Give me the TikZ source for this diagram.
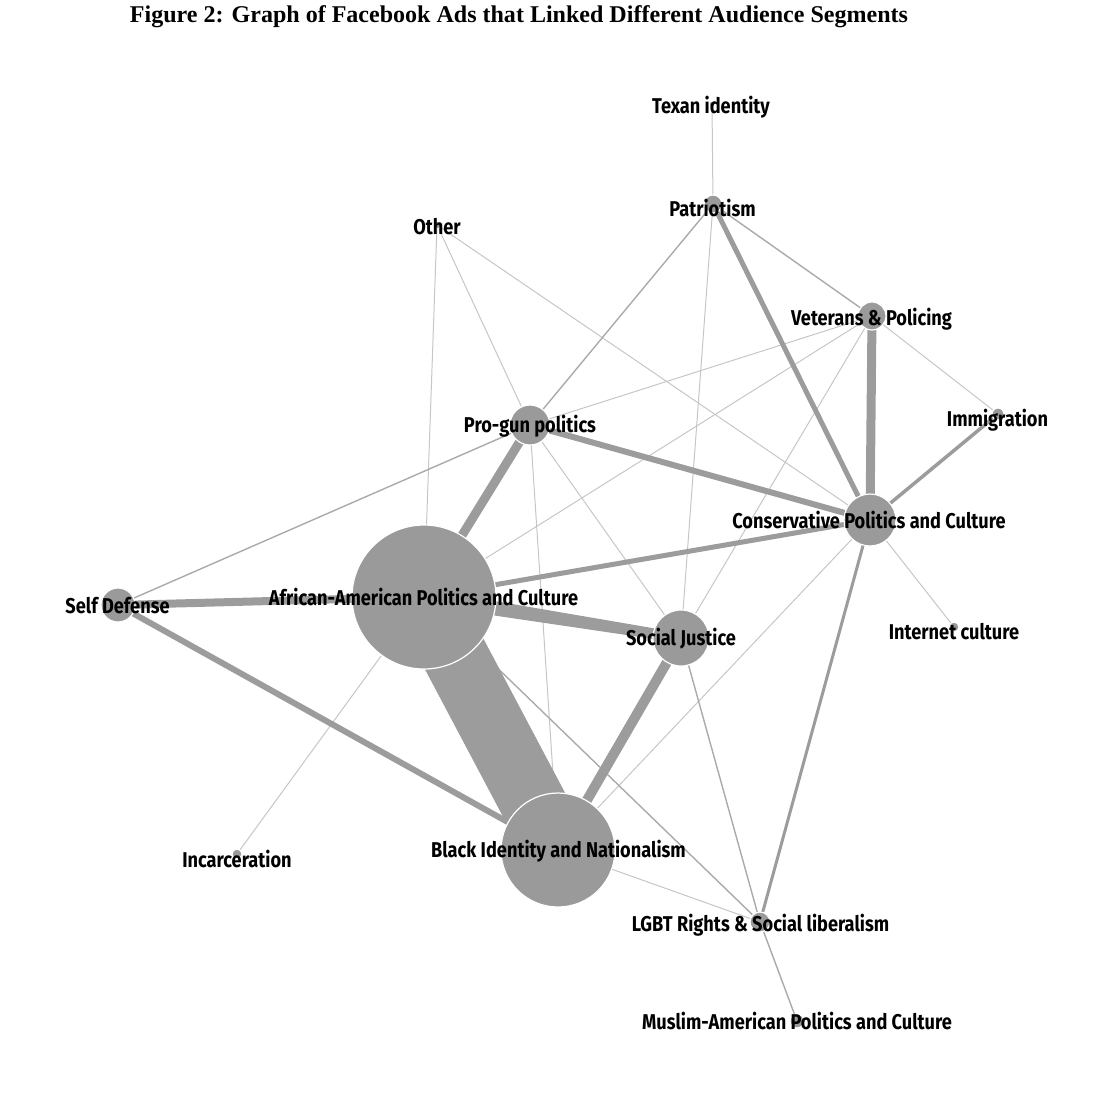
\documentclass[tikz,border=0pt]{standalone}
\usepackage{fontspec}
\setmainfont{Liberation Serif}
\newfontfamily\labfont[FakeStretch=0.85]{Fira Sans}
\usetikzlibrary{calc}
\pgfdeclarelayer{bg}
\pgfsetlayers{bg,main}
\definecolor{ngray}{HTML}{9A9A9A}
\definecolor{egray}{HTML}{9C9C9C}
\definecolor{lgray}{HTML}{C6C6C6}
\definecolor{mgray}{HTML}{AAAAAA}
\tikzset{
  seg/.style={circle, fill=ngray, draw=white, line width=0.6pt, inner sep=0pt, minimum size=#1},
  lab/.style={font=\labfont\bfseries\fontsize{10.7}{12}\selectfont, inner sep=0pt, anchor=base},
  thinedge/.style={draw=lgray, line width=0.5pt},
  midedge/.style={draw=mgray, line width=0.7pt},
  wideedge/.style={draw=egray, line width=#1},
}
\begin{document}
\begin{tikzpicture}[x=0.5pt, y=-0.5pt]
\useasboundingbox (0,0) rectangle (1106,1094);
% title
\node[anchor=base, inner sep=0pt] (title) at (519,22) {\resizebox{389pt}{!}{\bfseries Figure 2: Graph of Facebook Ads that Linked Different Audience Segments}};
% segment circles
\node[seg=3pt]  (tex)  at (712,104) {};
\node[seg=9pt]  (pat)  at (713,204) {};
\node[seg=4pt]  (oth)  at (437,225) {};
\node[seg=14pt] (vet)  at (872,316) {};
\node[seg=6pt]  (imm)  at (998,414) {};
\node[seg=20pt] (pro)  at (530,425) {};
\node[seg=26pt] (con)  at (870,520) {};
\node[seg=17pt] (sd)   at (118,605) {};
\node[seg=72pt] (aa)   at (424,597) {};
\node[seg=28pt] (sj)   at (681,638) {};
\node[seg=5pt]  (int)  at (954,627) {};
\node[seg=5pt]  (inc)  at (237,854) {};
\node[seg=57pt] (bi)   at (558,850) {};
\node[seg=10pt] (lgbt) at (760,922) {};
\node[seg=7pt]  (mus)  at (797,1021) {};
% edges
\begin{pgfonlayer}{bg}
  \draw[thinedge] (tex.center) -- (pat.center);
  \draw[thinedge] (oth.center) -- (aa.center);
  \draw[thinedge] (oth.center) -- (pro.center);
  \draw[thinedge] (oth.center) -- (con.center);
  \draw[thinedge] (vet.center) -- (pro.center);
  \draw[thinedge] (vet.center) -- (aa.center);
  \draw[thinedge] (vet.center) -- (sj.center);
  \draw[thinedge] (vet.center) -- (imm.center);
  \draw[thinedge] (pat.center) -- (sj.center);
  \draw[thinedge] (pro.center) -- (sj.center);
  \draw[thinedge] (pro.center) -- (bi.center);
  \draw[thinedge] (aa.center) -- (inc.center);
  \draw[thinedge] (bi.center) -- (lgbt.center);
  \draw[thinedge] (con.center) -- (bi.center);
  \draw[thinedge] (con.center) -- (int.center);
  \draw[midedge] (sd.center) -- (pro.center);
  \draw[midedge] (pat.center) -- (pro.center);
  \draw[midedge] (pat.center) -- (vet.center);
  \draw[midedge] (aa.center) -- (lgbt.center);
  \draw[midedge] (sj.center) -- (lgbt.center);
  \draw[midedge] (lgbt.center) -- (mus.center);
  \draw[wideedge=1.75pt] (imm.center) -- (con.center);
  \draw[wideedge=1.5pt] (con.center) -- (lgbt.center);
  \draw[wideedge=2.5pt] (aa.center) -- (con.center);
  \draw[wideedge=2.5pt] (pat.center) -- (con.center);
  \draw[wideedge=3pt] (pro.center) -- (con.center);
  \draw[wideedge=4.5pt] (vet.center) -- (con.center);
  \draw[wideedge=3pt] (sd.center) -- (bi.center);
  \draw[wideedge=4pt] (sd.center) -- (aa.center);
  \draw[wideedge=4.5pt] (pro.center) -- (aa.center);
  \draw[wideedge=5pt] (sj.center) -- (bi.center);
  \fill[egray] ($(aa.center)!4pt!90:(sj.center)$) -- ($(aa.center)!4pt!-90:(sj.center)$)
     -- ($(sj.center)!2.5pt!90:(aa.center)$) -- ($(sj.center)!2.5pt!-90:(aa.center)$) -- cycle;
  \draw[wideedge=33pt] (aa.center) -- (bi.center);
\end{pgfonlayer}
% labels
\node[lab] (l-tex)  at (711,113)   {Texan identity};
\node[lab] (l-pat)  at (712.5,216) {Patriotism};
\node[lab] (l-oth)  at (437,234)   {Other};
\node[lab] (l-vet)  at (871.5,325) {Veterans \& Policing};
\node[lab] (l-imm)  at (997.5,426) {Immigration};
\node[lab] (l-pro)  at (530,432)   {Pro-gun politics};
\node[lab] (l-con)  at (869,528)   {Conservative Politics and Culture};
\node[lab] (l-sd)   at (117.5,613) {Self Defense};
\node[lab] (l-aa)   at (423.5,605) {African-American Politics and Culture};
\node[lab] (l-sj)   at (681,645)   {Social Justice};
\node[lab] (l-int)  at (954,639)   {Internet culture};
\node[lab] (l-inc)  at (237,867)   {Incarceration};
\node[lab] (l-bi)   at (558.5,857) {Black Identity and Nationalism};
\node[lab] (l-lgbt) at (760.5,931) {LGBT Rights \& Social liberalism};
\node[lab] (l-mus)  at (797,1029)  {Muslim-American Politics and Culture};
\end{tikzpicture}
\end{document}
